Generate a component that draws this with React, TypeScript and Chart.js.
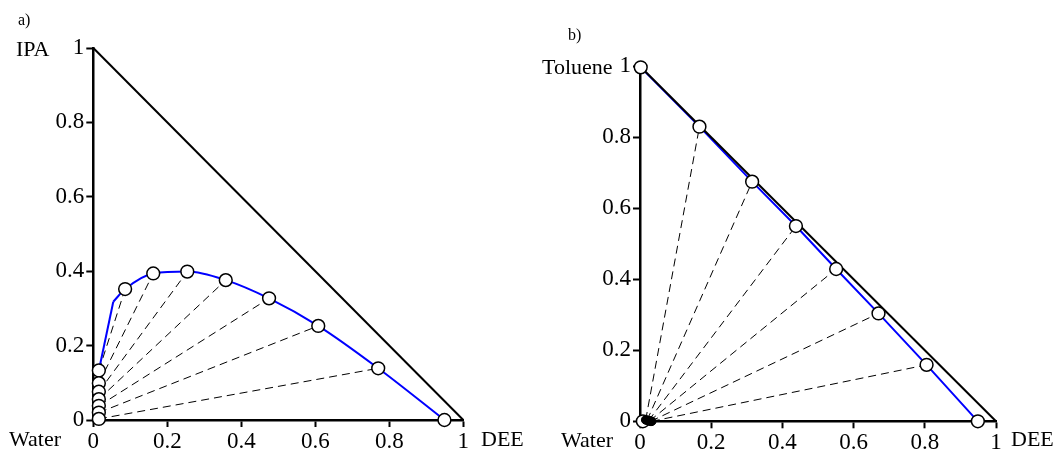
import React, { useEffect, useRef } from 'react';
import { Chart, registerables } from 'chart.js';
Chart.register(...registerables);

const tickValues = [0, 0.2, 0.4, 0.6, 0.8, 1];
const tickLabels = ['0', '0.2', '0.4', '0.6', '0.8', '1'];

// a) Water – IPA – DEE
const aExtractX = [0.086, 0.162, 0.254, 0.358, 0.475, 0.608, 0.770, 0.949];
const aExtractY = [0.352, 0.394, 0.399, 0.376, 0.327, 0.253, 0.139, 0.0];
const aRaffX = [0.015, 0.015, 0.015, 0.015, 0.015, 0.015, 0.015];
const aRaffY = [0.133, 0.099, 0.076, 0.056, 0.038, 0.020, 0.003];
const aCurveStartX = [0.015, 0.054];
const aCurveStartY = [0.133, 0.318];
const aCurveX = [0.054, 0.086, 0.162, 0.254, 0.358, 0.475, 0.608, 0.770, 0.949];
const aCurveY = [0.318, 0.352, 0.394, 0.399, 0.376, 0.327, 0.253, 0.139, 0.0];

// b) Water – Toluene – DEE
const bExtractX = [0.002, 0.167, 0.315, 0.438, 0.551, 0.670, 0.805, 0.949];
const bExtractY = [0.997, 0.830, 0.675, 0.550, 0.429, 0.304, 0.159, 0.0];
const bRaffX = [0.016, 0.020, 0.024, 0.027, 0.030, 0.033];
const bRaffY = [0.004, 0.003, 0.002, 0.001, 0.0, 0.0];
const bTieEndX = [0.167, 0.315, 0.438, 0.551, 0.670, 0.805];
const bTieEndY = [0.830, 0.675, 0.550, 0.429, 0.304, 0.159];
const bWaterX = [0.008];
const bWaterY = [0.0];

const FONT = "'Liberation Serif', 'Times New Roman', serif";
const BLUE = 'rgb(0,0,255)';

const pts = (xs: number[], ys: number[]) => xs.map((x, i) => ({ x, y: ys[i] }));

function circles(xs: number[], ys: number[]) {
  return {
    data: pts(xs, ys),
    showLine: false,
    pointRadius: 6.4,
    pointBackgroundColor: '#fff',
    pointBorderColor: '#000',
    pointBorderWidth: 1.5,
    clip: false,
    order: 0,
  };
}
function line(xs: number[], ys: number[], color: string, width: number, dash: number[] = [], order = 2, mono = false) {
  return {
    data: pts(xs, ys),
    showLine: true,
    borderColor: color,
    borderWidth: width,
    borderDash: dash,
    pointRadius: 0,
    cubicInterpolationMode: mono ? 'monotone' : 'default',
    clip: false,
    order,
  };
}

function makeOptions(yAxisWidth: number, xAxisHeight: number, padTop: number, padRight: number) {
  const axis = (isY: boolean) => ({
    type: 'linear',
    min: 0,
    max: 1,
    afterBuildTicks: (scale: any) => {
      scale.ticks = tickValues.map((v) => ({ value: v }));
    },
    afterFit: (scale: any) => {
      if (isY) scale.width = yAxisWidth;
      else scale.height = xAxisHeight;
    },
    ticks: {
      callback: (_v: any, i: number) => tickLabels[i],
      color: '#000',
      font: { family: FONT, size: 23 },
      padding: isY ? 2 : 1,
      maxRotation: 0,
      autoSkip: false,
    },
    grid: {
      drawOnChartArea: false,
      drawTicks: true,
      tickLength: 7,
      tickWidth: 2,
      tickColor: '#000',
      color: '#000',
    },
    border: { display: true, color: '#000', width: 2.5 },
  });
  return {
    responsive: false,
    animation: false,
    devicePixelRatio: 1,
    layout: { padding: { left: 0, top: padTop, right: padRight, bottom: 0 } },
    plugins: { legend: { display: false }, tooltip: { enabled: false } },
    scales: { x: axis(false), y: axis(true) },
  };
}

function ChartA() {
  const ref = useRef<HTMLCanvasElement>(null);
  useEffect(() => {
    const datasets: any[] = [];
    datasets.push(circles(aRaffX, aRaffY));
    datasets.push(circles(aExtractX, aExtractY));
    datasets.push(line(aCurveStartX, aCurveStartY, BLUE, 2, [], 2));
    datasets.push(line(aCurveX, aCurveY, BLUE, 2, [], 2, true));
    datasets.push(line([0, 1], [1, 0], '#000', 2, [], 1));
    for (let i = 0; i < aRaffX.length; i++) {
      datasets.push(line([aRaffX[i], aExtractX[i]], [aRaffY[i], aExtractY[i]], '#000', 1, [8, 5], 3));
    }
    const chart = new Chart(ref.current!, {
      type: 'scatter',
      data: { datasets },
      options: makeOptions(93.3, 34, 48, 67.7) as any,
    });
    return () => chart.destroy();
  }, []);
  return <canvas ref={ref} width={531} height={454} style={{ position: 'absolute', left: 0, top: 0, width: 531, height: 454 }} />;
}

function ChartB() {
  const ref = useRef<HTMLCanvasElement>(null);
  useEffect(() => {
    const datasets: any[] = [];
    datasets.push({
      data: pts(bRaffX, bRaffY),
      showLine: false,
      pointRadius: 4.3,
      pointBackgroundColor: '#000',
      pointBorderColor: '#000',
      pointBorderWidth: 1,
      clip: false,
      order: 0,
    });
    datasets.push(circles(bWaterX, bWaterY));
    datasets.push(circles(bExtractX, bExtractY));
    datasets.push(line(bExtractX, bExtractY, BLUE, 2, [], 2));
    datasets.push(line([0, 1], [1, 0], '#000', 2, [], 1));
    for (let i = 0; i < bRaffX.length; i++) {
      datasets.push(line([bRaffX[i], bTieEndX[i]], [bRaffY[i], bTieEndY[i]], '#000', 1, [8, 5], 3));
    }
    const chart = new Chart(ref.current!, {
      type: 'scatter',
      data: { datasets },
      options: makeOptions(109, 32.7, 66.3, 66) as any,
    });
    return () => chart.destroy();
  }, []);
  return <canvas ref={ref} width={531} height={454} style={{ position: 'absolute', left: 531, top: 0, width: 531, height: 454 }} />;
}

const labelStyle = (left: number, top: number, size = 22): React.CSSProperties => ({
  position: 'absolute',
  left,
  top,
  fontFamily: FONT,
  fontSize: size,
  lineHeight: 1,
  color: '#000',
  whiteSpace: 'nowrap',
});

export default function App() {
  return (
    <div style={{ position: 'absolute', left: 0, top: 0, width: 1062, height: 454, background: '#fff', overflow: 'hidden' }}>
      <ChartA />
      <ChartB />
      <div style={labelStyle(18, 11.6, 16)}>a)</div>
      <div style={labelStyle(16, 38.3)}>IPA</div>
      <div style={labelStyle(9, 428.3)}>Water</div>
      <div style={labelStyle(481, 428.3)}>DEE</div>
      <div style={labelStyle(568, 26.6, 16)}>b)</div>
      <div style={labelStyle(542, 55.6)}>Toluene</div>
      <div style={labelStyle(561, 429)}>Water</div>
      <div style={labelStyle(1011, 428.3)}>DEE</div>
    </div>
  );
}
